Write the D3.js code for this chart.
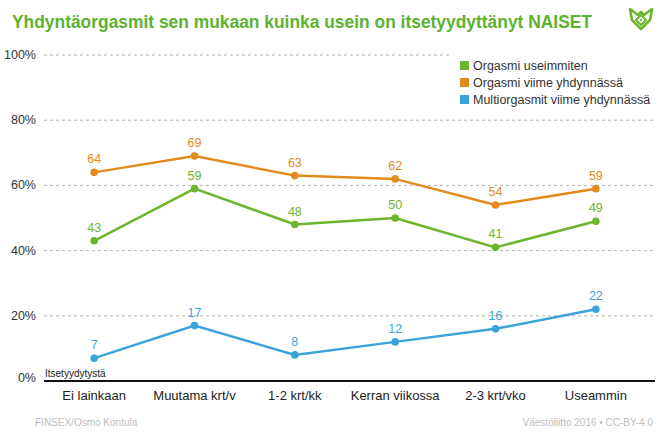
<!DOCTYPE html>
<html><head><meta charset="utf-8">
<script src="https://cdn.jsdelivr.net/npm/d3@7"></script>
<style>body{margin:0;background:#fff}svg{display:block;font-family:"Liberation Sans",Arial,sans-serif}</style>
</head><body><svg id="c" width="662" height="441"></svg>
<script>
const categories = ["Ei lainkaan","Muutama krt/v","1-2 krt/kk","Kerran viikossa","2-3 krt/vko","Useammin"];
const seriesNames = ["Orgasmi useimmiten","Orgasmi viime yhdynnässä","Multiorgasmit viime yhdynnässä"];
const orgasmiUseimmiten = [43,59,48,50,41,49];
const orgasmiViime = [64,69,63,62,54,59];
const multiorgasmit = [7,17,8,12,16,22];
const yTicks = [0,20,40,60,80,100];
const colors = ["#6cb52d","#e38a1c","#3ba3dc"];

const series = [
  {name: seriesNames[0], values: orgasmiUseimmiten, color: colors[0]},
  {name: seriesNames[1], values: orgasmiViime, color: colors[1]},
  {name: seriesNames[2], values: multiorgasmit, color: colors[2]}
];

const svg = d3.select("#c");
const x = d3.scaleBand().domain(categories).range([44, 646]);
const y = d3.scaleLinear().domain([0,100]).range([381, 55]);

// title
svg.append("text").attr("x",12).attr("y",28).attr("fill","#5db22f")
  .attr("font-weight","bold").attr("font-size",18)
  .attr("textLength",580).attr("lengthAdjust","spacingAndGlyphs")
  .text("Yhdyntäorgasmit sen mukaan kuinka usein on itsetyydyttänyt NAISET");

// logo
const logo = svg.append("g").attr("transform","translate(641,18)").attr("fill","none").attr("stroke","#6cb52d").attr("stroke-width",2.6).attr("stroke-linejoin","round");
logo.append("path").attr("d","M-11,-9 L-3,-3 L0,-6 L3,-3 L11,-9 L9,2 L0,11 L-9,2 Z");
logo.append("path").attr("d","M0,-3 L5,2 L0,7 L-5,2 Z").attr("stroke-width",2);
logo.append("circle").attr("cx",0).attr("cy",2).attr("r",1.2).attr("fill","#6cb52d").attr("stroke","none");

// gridlines
svg.append("g").selectAll("line").data(yTicks.filter(d=>d>0)).join("line")
  .attr("x1",44).attr("x2",d => d===100 ? 450 : 655)
  .attr("y1",d=>y(d)).attr("y2",d=>y(d))
  .attr("stroke","#b3b3b3").attr("stroke-dasharray","3,3").attr("stroke-width",1);

// y tick labels
svg.append("g").selectAll("text").data(yTicks).join("text")
  .attr("x",36).attr("y",d=>y(d)+ (d===0?1:4)).attr("text-anchor","end")
  .attr("font-size",12.5).attr("fill","#333").text(d=>d+"%");

// baseline
svg.append("line").attr("x1",44).attr("x2",655).attr("y1",y(0)).attr("y2",y(0)).attr("stroke","#111").attr("stroke-width",1.8);

svg.append("text").attr("x",45).attr("y",377).attr("font-size",10).attr("fill","#222").text("Itsetyydytystä");

// category labels
svg.append("g").selectAll("text").data(categories).join("text")
  .attr("x",d=>x(d)+x.bandwidth()/2).attr("y",400).attr("text-anchor","middle")
  .attr("font-size",13).attr("fill","#222").text(d=>d);

// lines
const line = d3.line().x((d,i)=>x(categories[i])+x.bandwidth()/2).y(d=>y(d));
series.forEach(s => {
  const g = svg.append("g");
  g.append("path").attr("d", line(s.values)).attr("fill","none").attr("stroke",s.color).attr("stroke-width",2.5);
  g.selectAll("circle").data(s.values).join("circle")
    .attr("cx",(d,i)=>x(categories[i])+x.bandwidth()/2).attr("cy",d=>y(d)).attr("r",3.8).attr("fill",s.color);
  g.selectAll("text").data(s.values).join("text")
    .attr("x",(d,i)=>x(categories[i])+x.bandwidth()/2).attr("y",d=>y(d)-9)
    .attr("text-anchor","middle").attr("font-size",12.5).attr("fill",s.color).text(d=>d);
});

// legend
const lg = svg.append("g").attr("transform","translate(460,60)");
lg.append("rect").attr("x",-8).attr("y",-6).attr("width",200).attr("height",56).attr("fill","#fff");
series.forEach((s,i)=>{
  lg.append("rect").attr("x",0).attr("y",i*17+1).attr("width",9).attr("height",9).attr("fill",s.color);
  lg.append("text").attr("x",13).attr("y",i*17+10).attr("font-size",12.5).attr("fill","#333").text(s.name);
});

// footer
svg.append("text").attr("x",35).attr("y",426).attr("font-size",10).attr("fill","#bdbdbd").text("FINSEX/Osmo Kontula");
svg.append("text").attr("x",653).attr("y",426).attr("text-anchor","end").attr("font-size",10).attr("fill","#bdbdbd").text("Väestöliitto 2016 • CC-BY-4.0");
</script></body></html>
